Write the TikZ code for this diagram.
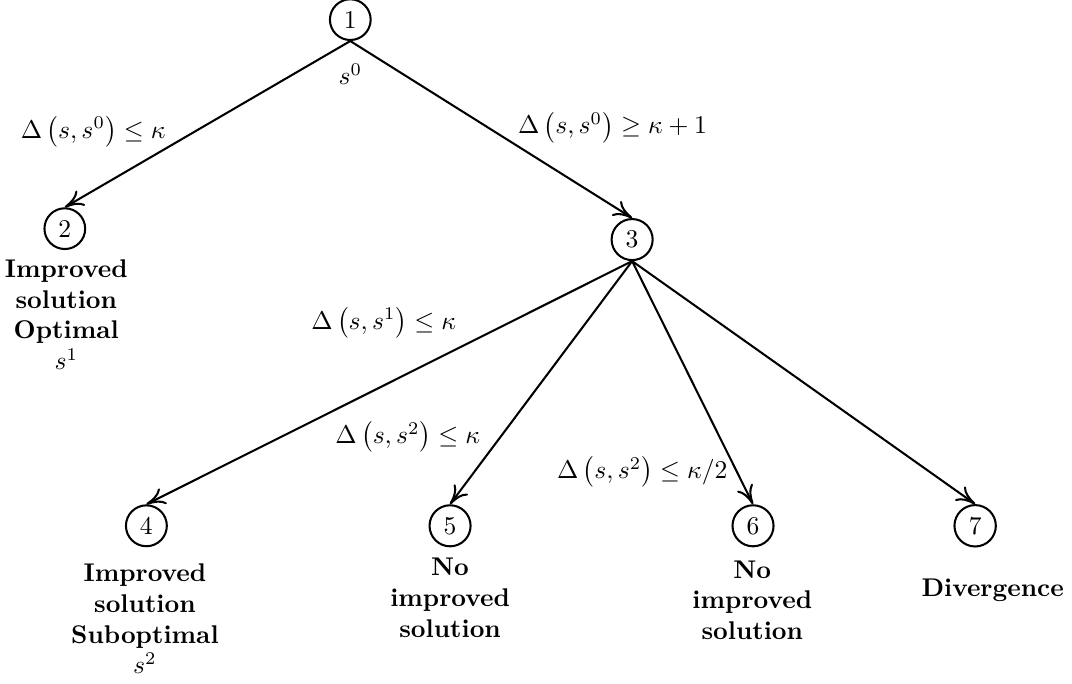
\documentclass[tikz,border=0pt]{standalone}
\usepackage{amsmath}
\usetikzlibrary{arrows.meta}
\tikzset{
  vertex/.style={circle, draw, thick, inner sep=2.7pt},
  outcome/.style={font=\bfseries, align=center},
  branch/.style={thick, -{To[length=2.6mm, width=2.4mm]}}
}
\begin{document}
\begin{tikzpicture}
  \useasboundingbox (0, 0) rectangle (14.72, 9.39);

  % Nodes
  \node [vertex] (n1) at (4.81, 9.12) {1};
  \node [vertex] (n2) at (0.89, 6.25) {2};
  \node [vertex] (n3) at (8.68, 6.10) {3};
  \node [vertex] (n4) at (2.01, 2.17) {4};
  \node [vertex] (n5) at (6.18, 2.17) {5};
  \node [vertex] (n6) at (10.34, 2.17) {6};
  \node [vertex] (n7) at (13.39, 2.17) {7};
  \node (s0) at (4.81, 8.37) {$s^0$};

  % Outcomes
  \node [outcome] (t2) at (0.91, 5.07) {Improved\\solution\\Optimal\\$s^1$};
  \node [outcome] (t4) at (1.99, 0.89) {Improved\\solution\\Suboptimal\\$s^2$};
  \node [outcome] (t5) at (6.18, 1.18) {No\\improved\\solution};
  \node [outcome] (t6) at (10.33, 1.15) {No\\improved\\solution};
  \node [outcome] (t7) at (13.63, 1.29) {Divergence};

  % Branches
  \draw [branch] (n1.south) -- (n2.north);
  \draw [branch] (n1.south) -- (n3.north);
  \draw [branch] (n3.south) -- (n4.north);
  \draw [branch] (n3.south) -- (n5.north);
  \draw [branch] (n3.south) -- (n6.north);
  \draw [branch] (n3.south) -- (n7.north);

  % Conditions
  \node (c12) at (1.28, 7.58) {$\Delta\left(s, s^0\right) \leq \kappa$};
  \node (c13) at (8.41, 7.64) {$\Delta\left(s, s^0\right) \geq \kappa + 1$};
  \node (c34) at (5.27, 4.96) {$\Delta\left(s, s^1\right) \leq \kappa$};
  \node (c35) at (5.60, 3.39) {$\Delta\left(s, s^2\right) \leq \kappa$};
  \node (c36) at (8.82, 2.91) {$\Delta\left(s, s^2\right) \leq \kappa/2$};
\end{tikzpicture}
\end{document}
